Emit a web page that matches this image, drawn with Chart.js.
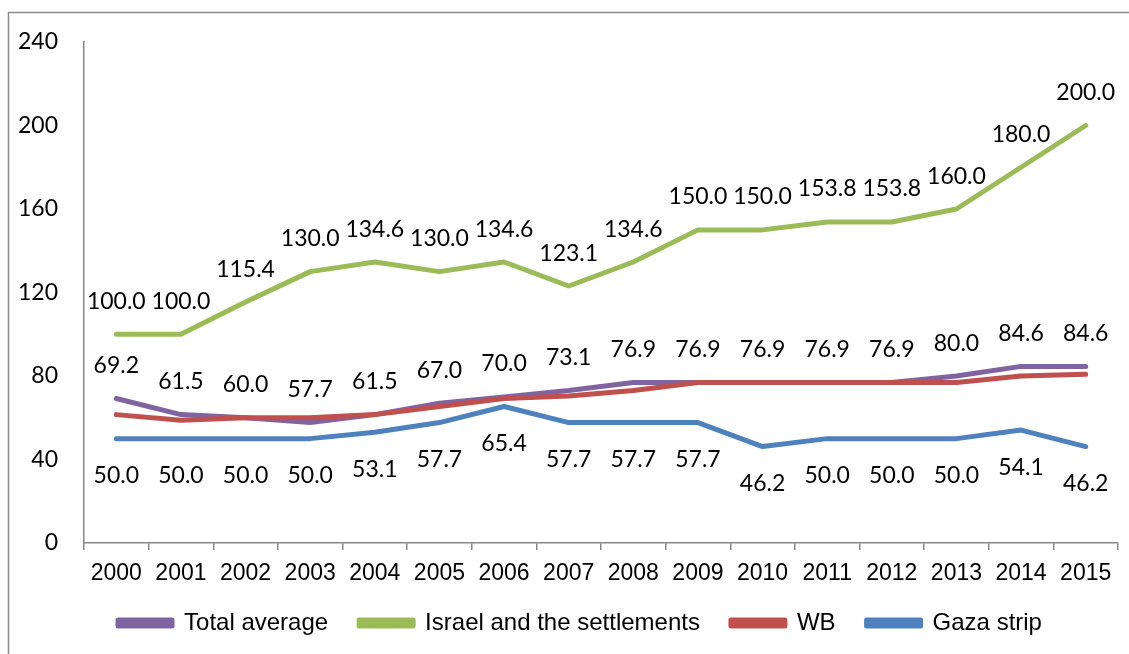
<!DOCTYPE html>
<html>
<head>
<meta charset="utf-8">
<script src="https://cdn.jsdelivr.net/npm/chart.js@4.4.1/dist/chart.umd.min.js"></script>
<style>
  html, body { margin: 0; padding: 0; background: #ffffff; }
  #wrap { width: 1129px; height: 654px; position: relative; }
</style>
</head>
<body>
<div id="wrap"><canvas id="chart" width="1129" height="654"></canvas></div>
<script>
// Years on the horizontal axis
const years = ['2000','2001','2002','2003','2004','2005','2006','2007','2008','2009','2010','2011','2012','2013','2014','2015'];

// Series values
const totalAverage = [69.2, 61.5, 60.0, 57.7, 61.5, 67.0, 70.0, 73.1, 76.9, 76.9, 76.9, 76.9, 76.9, 80.0, 84.6, 84.6];
const israelSettlements = [100.0, 100.0, 115.4, 130.0, 134.6, 130.0, 134.6, 123.1, 134.6, 150.0, 150.0, 153.8, 153.8, 160.0, 180.0, 200.0];
const westBank = [61.5, 58.8, 60.0, 60.0, 61.5, 65.4, 69.2, 70.4, 73.1, 76.9, 76.9, 76.9, 76.9, 76.9, 80.0, 80.8];
const gazaStrip = [50.0, 50.0, 50.0, 50.0, 53.1, 57.7, 65.4, 57.7, 57.7, 57.7, 46.2, 50.0, 50.0, 50.0, 54.1, 46.2];

// Value axis ticks
const yTicks = [0, 40, 80, 120, 160, 200, 240];

const AXIS_GRAY = '#888888';
const LABEL_FONT = '23px Lato';

// White background plus the outer frame of the chart object
const framePlugin = {
  id: 'frame',
  beforeDraw(chart) {
    const ctx = chart.ctx;
    ctx.save();
    ctx.fillStyle = '#ffffff';
    ctx.fillRect(0, 0, chart.width, chart.height);
    ctx.strokeStyle = '#8a8a8a';
    ctx.lineWidth = 1.5;
    ctx.beginPath();
    ctx.moveTo(8.5, chart.height + 5);
    ctx.lineTo(8.5, 12.5);
    ctx.lineTo(chart.width + 5, 12.5);
    ctx.stroke();
    ctx.restore();
  }
};

// Centre the legend row under the plot and pull it a little closer to the axis
const legendPlace = {
  id: 'legendPlace',
  afterLayout(chart) {
    const lg = chart.legend;
    if (!lg) return;
    lg.left = 42;
    lg.top -= 9;
    lg.bottom -= 9;
  }
};

// Value labels above or below each point, depending on the dataset
const valueLabels = {
  id: 'valueLabels',
  afterDatasetsDraw(chart) {
    const ctx = chart.ctx;
    ctx.save();
    ctx.font = LABEL_FONT;
    ctx.fillStyle = '#000000';
    ctx.textAlign = 'center';
    ctx.textBaseline = 'alphabetic';
    chart.data.datasets.forEach((ds, i) => {
      if (!ds.labelSide) return;
      const meta = chart.getDatasetMeta(i);
      meta.data.forEach((pt, j) => {
        const v = ds.data[j];
        const y = ds.labelSide === 'above' ? pt.y - 25.5 : pt.y + 44.5;
        ctx.fillText(v.toFixed(1), pt.x, y);
      });
    });
    ctx.restore();
  }
};

function lineSet(label, data, color, order, labelSide) {
  return {
    label, data, order, labelSide,
    borderColor: color,
    backgroundColor: color,
    borderWidth: 5,
    borderCapStyle: 'round',
    borderJoinStyle: 'round',
    pointRadius: 0,
    pointHoverRadius: 0,
    tension: 0,
    fill: false
  };
}

new Chart(document.getElementById('chart'), {
  type: 'line',
  data: {
    labels: years,
    datasets: [
      lineSet('Total average', totalAverage, '#8064A2', 4, 'above'),
      lineSet('Israel and the settlements', israelSettlements, '#9BBB59', 3, 'above'),
      lineSet('WB', westBank, '#C0504D', 2, null),
      lineSet('Gaza strip', gazaStrip, '#4F81BD', 1, 'below')
    ]
  },
  options: {
    responsive: false,
    animation: false,
    events: [],
    layout: { padding: { left: 0, right: 11, top: 42, bottom: 0 } },
    plugins: {
      tooltip: { enabled: false },
      legend: {
        position: 'bottom',
        align: 'center',
        labels: {
          font: { family: 'Liberation Sans', size: 24 },
          color: '#000000',
          boxWidth: 54,
          boxHeight: 6,
          padding: 31,
          sort: (a, b) => a.datasetIndex - b.datasetIndex
        }
      }
    },
    scales: {
      x: {
        type: 'category',
        offset: true,
        grid: {
          display: true,
          drawOnChartArea: false,
          drawTicks: true,
          tickLength: 7,
          color: AXIS_GRAY,
          lineWidth: 1.5,
          offset: true
        },
        border: { display: true, color: AXIS_GRAY, width: 1.5 },
        ticks: {
          font: { family: 'Liberation Sans', size: 23 },
          color: '#000000',
          padding: 10,
          maxRotation: 0,
          autoSkip: false
        },
        afterFit(scale) { scale.height = 46; }
      },
      y: {
        min: yTicks[0],
        max: yTicks[yTicks.length - 1],
        grid: { display: false, drawTicks: false },
        border: { display: true, color: AXIS_GRAY, width: 1.5 },
        afterBuildTicks(scale) { scale.ticks = yTicks.map(v => ({ value: v })); },
        ticks: {
          font: { family: 'Lato', size: 23 },
          color: '#000000',
          padding: 26
        },
        afterFit(scale) { scale.width = 84; }
      }
    }
  },
  plugins: [framePlugin, legendPlace, valueLabels]
});
</script>
</body>
</html>
